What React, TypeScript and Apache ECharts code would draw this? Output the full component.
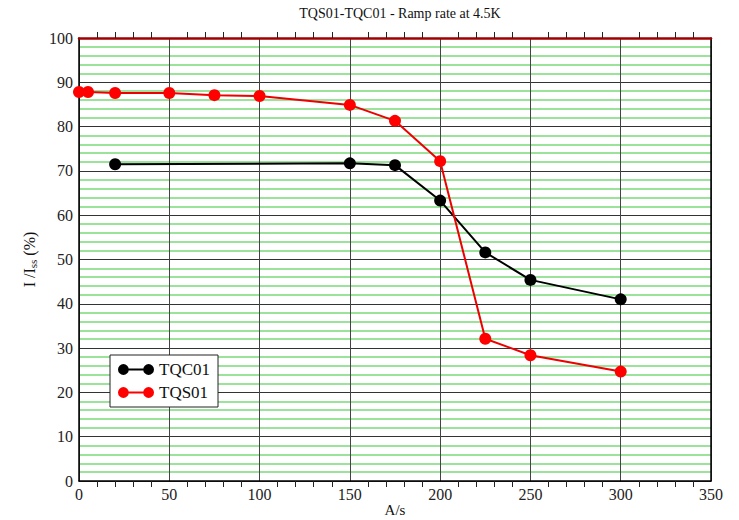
import React, { useEffect, useRef } from "react";
import * as echarts from "echarts";

const TITLE = "TQS01-TQC01 - Ramp rate at 4.5K";
const tqc01: [number, number][] = [
  [20, 71.5], [150, 71.7], [175, 71.3], [200, 63.3], [225, 51.6], [250, 45.4], [300, 41.0],
];
const tqs01: [number, number][] = [
  [0, 87.8], [5, 87.8], [20, 87.6], [50, 87.6], [75, 87.1], [100, 86.9], [150, 84.9],
  [175, 81.3], [200, 72.2], [225, 32.1], [250, 28.4], [300, 24.7],
];
const X_MIN = 0, X_MAX = 350, X_STEP = 50;
const Y_MIN = 0, Y_MAX = 100, Y_STEP = 10;

const FONT = "'Liberation Serif', 'Times New Roman', serif";
const ICON = "path://M0,6A6,6,0,1,1,12,6A6,6,0,1,1,0,6Z M10,5H30V7H10Z M28,6A6,6,0,1,1,40,6A6,6,0,1,1,28,6Z";

export default function App() {
  const ref = useRef<HTMLDivElement>(null);
  useEffect(() => {
    const chart = echarts.init(ref.current!, null, { renderer: "svg" });
    chart.setOption({
      animation: false,
      backgroundColor: "#fff",
      textStyle: { fontFamily: FONT },
      title: {
        text: TITLE,
        left: 395,
        textAlign: "center",
        top: 1,
        textStyle: { fontFamily: FONT, fontSize: 14, fontWeight: "normal", color: "#111" },
      },
      grid: { left: 79, right: 28, top: 38, bottom: 39, containLabel: false, outerBoundsMode: "none" },
      legend: {
        orient: "vertical",
        left: 110,
        top: 355,
        padding: [6, 8, 6, 8],
        itemGap: 6,
        itemWidth: 36,
        itemHeight: 11,
        icon: ICON,
        borderColor: "#222",
        borderWidth: 1,
        backgroundColor: "#fff",
        textStyle: { fontFamily: FONT, fontSize: 17, color: "#111" },
        data: ["TQC01", "TQS01"],
      },
      xAxis: [
        {
          type: "value",
          min: X_MIN,
          max: X_MAX,
          interval: X_STEP,
          name: "A/s",
          nameLocation: "middle",
          nameGap: 22,
          nameMoveOverlap: false,
          nameTextStyle: { fontFamily: FONT, fontSize: 15, lineHeight: 14, color: "#111" },
          axisLine: { show: true, lineStyle: { color: "#000", width: 1.5 } },
          axisTick: { show: false },
          minorTick: { show: true, splitNumber: 5, length: 6, lineStyle: { color: "#222" } },
          axisLabel: { fontFamily: FONT, fontSize: 16, color: "#222", margin: 5 },
          splitLine: { show: true, lineStyle: { color: "#444", width: 1 } },
        },
        {
          type: "value",
          position: "top",
          min: X_MIN,
          max: X_MAX,
          interval: X_STEP,
          axisLine: { show: true, onZero: false, lineStyle: { color: "#a00000", width: 2.5 } },
          axisTick: { show: false },
          minorTick: { show: true, splitNumber: 5, length: 6, lineStyle: { color: "#222" } },
          axisLabel: { show: false },
          splitLine: { show: false },
        },
      ],
      yAxis: [
        {
          type: "value",
          min: Y_MIN,
          max: Y_MAX,
          interval: Y_STEP,
          name: "I /I{sub|ss} (%)",
          nameLocation: "middle",
          nameGap: 38,
          nameRotate: 90,
          nameTextStyle: {
            fontFamily: FONT,
            fontSize: 16,
            color: "#111",
            rich: { sub: { fontFamily: FONT, fontSize: 11, color: "#111", verticalAlign: "bottom", padding: [6, 0, 0, 0] } },
          },
          axisLine: { show: true, lineStyle: { color: "#000", width: 1.5 } },
          axisTick: { show: false },
          axisLabel: { fontFamily: FONT, fontSize: 16, color: "#222", margin: 6 },
          splitLine: { show: true, lineStyle: { color: "#333", width: 1 } },
          minorTick: { show: false, splitNumber: 5 },
          minorSplitLine: { show: true, lineStyle: { color: "#7ad87a", width: 1.5 } },
        },
        {
          type: "value",
          position: "right",
          min: Y_MIN,
          max: Y_MAX,
          interval: Y_STEP,
          axisLine: { show: true, onZero: false, lineStyle: { color: "#000", width: 1.5 } },
          axisTick: { show: false },
          axisLabel: { show: false },
          splitLine: { show: false },
        },
      ],
      series: [
        {
          name: "TQC01",
          type: "line",
          data: tqc01,
          symbol: "circle",
          symbolSize: 12,
          itemStyle: { color: "#000" },
          lineStyle: { color: "#000", width: 2 },
          z: 3,
        },
        {
          name: "TQS01",
          type: "line",
          data: tqs01,
          symbol: "circle",
          symbolSize: 12,
          itemStyle: { color: "#ff0000" },
          lineStyle: { color: "#ee0000", width: 2 },
          z: 4,
        },
      ],
    });
    return () => chart.dispose();
  }, []);
  return <div ref={ref} style={{ width: 739, height: 520, position: "absolute", left: 0, top: 0 }} />;
}
